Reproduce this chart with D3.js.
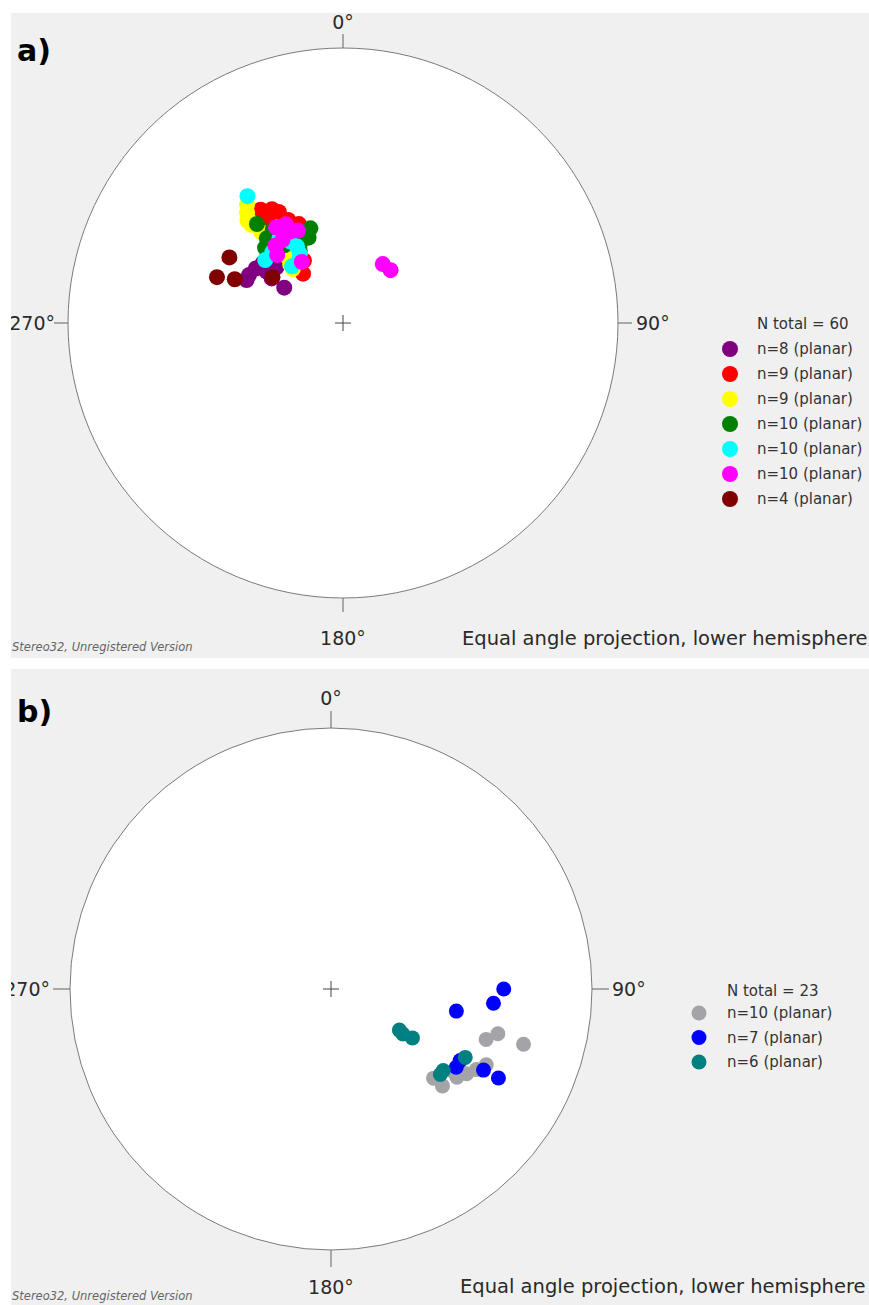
<!DOCTYPE html>
<html><head><meta charset="utf-8">
<script src="https://cdn.jsdelivr.net/npm/d3@7"></script>
<style>html,body{margin:0;padding:0;background:#fff;} svg{display:block}</style>
</head><body>
<svg id="c" width="869" height="1305"></svg>
<script>
// ---------- DATA ----------
const panelLabels = ["a)", "b)"];
const dirLabels = ["0°", "90°", "180°", "270°"];
const dirAngles = [0, 90, 180, 270];
const projectionNote = "Equal angle projection, lower hemisphere";
const footNote = "Stereo32, Unregistered Version";

const legendTitleA = "N total = 60";
const seriesNamesA = ["n=8 (planar)", "n=9 (planar)", "n=9 (planar)", "n=10 (planar)", "n=10 (planar)", "n=10 (planar)", "n=4 (planar)"];
const seriesColorsA = ["#800080", "#ff0000", "#ffff00", "#008000", "#00ffff", "#ff00ff", "#800000"];
// poles: [trend, plunge]
const polesA1 = [[294,48],[297,48],[302,49],[307,50],[310,55],[302,56],[301,62],[304,53]];
const polesA2 = [[324,36],[328,38],[330,40],[324,40],[332,44],[336,47],[329,56],[328,60],[321,64]];
const polesA3 = [[321,32],[319,34],[317,36],[317,38],[318,58],[317,60],[320,56],[327,57],[318,42]];
const polesA4 = [[319,39],[341,50],[338,53],[318,45],[323,44],[331,54],[323,51],[322,48],[332,49],[314,47]];
const polesA5 = [[323,30],[309,50],[329,54],[327,51],[318,59],[323,48],[328,57],[315,50],[327,47],[324,59]];
const polesA6 = [[325,44],[330,45],[334,49],[319,49],[316,52],[326,60],[330,48],[324,49],[34,61],[42,61]];
const polesA7 = [[300,39],[290,38],[292,44],[303,56]];

const legendTitleB = "N total = 23";
const seriesNamesB = ["n=10 (planar)", "n=7 (planar)", "n=6 (planar)"];
const seriesColorsB = ["#a4a4a8", "#0000ff", "#008080"];
const polesB1 = [[105,23],[108,26],[106,15],[116,23],[119,25],[122,27],[124,31],[131,35],[131,31],[125,29]];
const polesB2 = [[100,38],[95,26],[90,23],[122,31],[118,23],[118,18],[119,31]];
const polesB3 = [[121,56],[122,54],[121,50],[117,30],[128,34],[126,34]];

// ---------- LAYOUT ----------
const panels = [
  { label: panelLabels[0], top: 13, bottom: 658, cx: 343, cy: 323, R: 275,
    tick: 14, topOff: 19, botOff: 47, leftEnd: 55, rightStart: 636,
    noteX: 462, noteY: 645, footY: 651, labelY: 61,
    legX: 730, legTextX: 757, legTitleY: 324, legStep: 25, legFirst: 25, mr: 8, dr: 8,
    names: seriesNamesA, colors: seriesColorsA, title: legendTitleA,
    sets: [polesA1, polesA2, polesA3, polesA4, polesA5, polesA6, polesA7] },
  { label: panelLabels[1], top: 669, bottom: 1305, cx: 331, cy: 989, R: 261,
    tick: 17, topOff: 23, botOff: 44, leftEnd: 50, rightStart: 612,
    noteX: 460, noteY: 1293, footY: 1300, labelY: 722,
    legX: 699, legTextX: 727, legTitleY: 991, legStep: 24.5, legFirst: 22, mr: 7.5, dr: 7.5,
    names: seriesNamesB, colors: seriesColorsB, title: legendTitleB,
    sets: [polesB1, polesB2, polesB3] }
];

const svg = d3.select("#c");
const FONT = "'DejaVu Sans', Verdana, sans-serif";

svg.append("defs").append("filter").attr("id", "soft")
  .append("feGaussianBlur").attr("stdDeviation", 0.5);

panels.forEach(p => {
  const g = svg.append("g");
  g.append("rect").attr("x", 11).attr("y", p.top).attr("width", 869 - 11)
    .attr("height", p.bottom - p.top).attr("fill", "#f0f0f0");

  // equal-angle (stereographic) projection, lower hemisphere, centred on the vertical
  const proj = d3.geoStereographic()
    .scale(p.R).translate([p.cx, p.cy]).rotate([0, -90]).clipAngle(179);
  const toGeo = d => [180 - d[0], d[1]];

  g.append("circle").attr("cx", p.cx).attr("cy", p.cy).attr("r", p.R)
    .attr("fill", "#ffffff").attr("stroke", "#7a7a7a").attr("stroke-width", 1);

  // direction ticks and labels
  dirAngles.forEach((a, i) => {
    const e = proj(toGeo([a, 0]));
    const ux = Math.round(e[0] - p.cx) / p.R, uy = Math.round(e[1] - p.cy) / p.R;
    g.append("line").attr("x1", e[0]).attr("y1", e[1])
      .attr("x2", e[0] + ux * p.tick).attr("y2", e[1] + uy * p.tick)
      .attr("stroke", "#7a7a7a").attr("stroke-width", 1.2);
    const t = g.append("text").text(dirLabels[i]).attr("font-family", FONT)
      .attr("font-size", 19).attr("fill", "#2a2a2a");
    if (a === 0) t.attr("x", p.cx).attr("y", p.cy - p.R - p.topOff).attr("text-anchor", "middle");
    if (a === 180) t.attr("x", p.cx).attr("y", p.cy + p.R + p.botOff).attr("text-anchor", "middle");
    if (a === 90) t.attr("x", p.rightStart).attr("y", p.cy + 7);
    if (a === 270) t.attr("x", p.leftEnd).attr("y", p.cy + 7).attr("text-anchor", "end");
  });

  // centre cross
  g.append("path").attr("d", `M${p.cx - 8},${p.cy}H${p.cx + 8}M${p.cx},${p.cy - 8}V${p.cy + 8}`)
    .attr("stroke", "#444").attr("stroke-width", 1);

  // poles
  p.sets.forEach((set, si) => {
    g.append("g").attr("filter", "url(#soft)").selectAll("circle").data(set).join("circle")
      .attr("cx", d => proj(toGeo(d))[0]).attr("cy", d => proj(toGeo(d))[1])
      .attr("r", p.dr).attr("fill", p.colors[si]);
  });

  // legend
  g.append("text").text(p.title).attr("x", p.legTextX).attr("y", p.legTitleY + 5)
    .attr("font-family", FONT).attr("font-size", 15).attr("fill", "#333");
  p.names.forEach((n, i) => {
    const y = p.legTitleY + p.legFirst + i * p.legStep;
    g.append("circle").attr("cx", p.legX).attr("cy", y).attr("r", p.mr)
      .attr("fill", p.colors[i]).attr("filter", "url(#soft)");
    g.append("text").text(n).attr("x", p.legTextX).attr("y", y + 5)
      .attr("font-family", FONT).attr("font-size", 15).attr("fill", "#333");
  });

  // texts
  g.append("text").text(projectionNote).attr("x", p.noteX).attr("y", p.noteY)
    .attr("font-family", FONT).attr("font-size", 19.5).attr("fill", "#2a2a2a");
  g.append("text").text(footNote).attr("x", 12).attr("y", p.footY)
    .attr("font-family", FONT).attr("font-style", "italic").attr("font-size", 11.5).attr("fill", "#666");
  g.append("text").text(p.label).attr("x", 17).attr("y", p.labelY)
    .attr("font-family", FONT).attr("font-weight", "bold").attr("font-size", 30).attr("fill", "#000");
});

// white strips at left / top
svg.append("rect").attr("x", 0).attr("y", 0).attr("width", 11).attr("height", 1305).attr("fill", "#fff");
</script>
</body></html>
